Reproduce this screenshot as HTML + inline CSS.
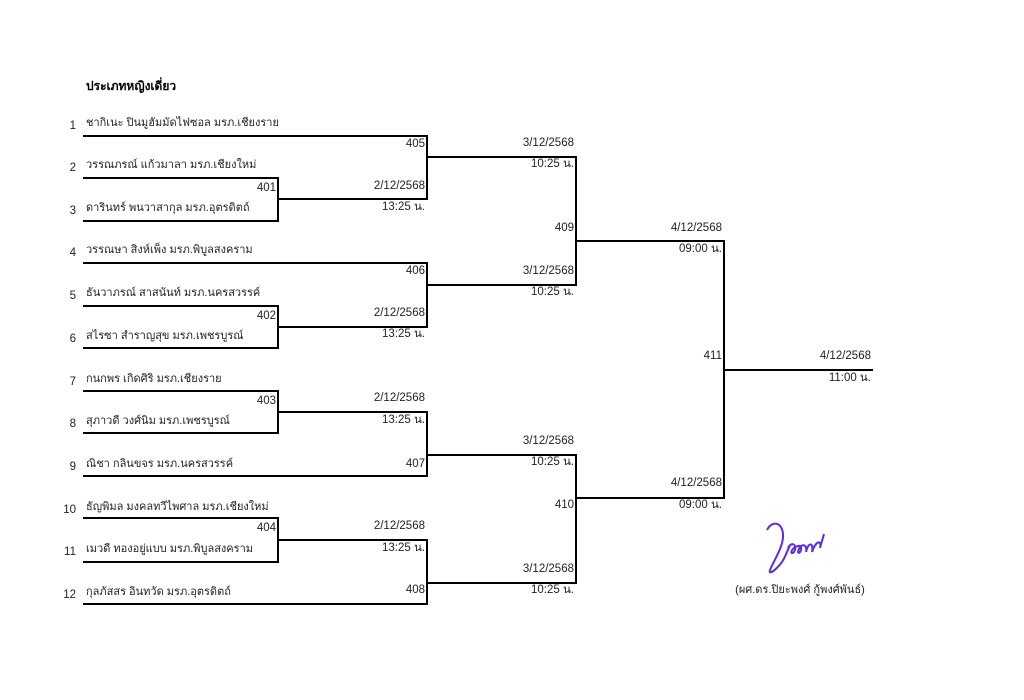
<!DOCTYPE html>
<html><head><meta charset="utf-8"><style>
html,body{margin:0;padding:0;background:#fff;width:1024px;height:700px;overflow:hidden}
svg text{font-family:"Liberation Sans","DejaVu Sans",sans-serif;font-size:11px;fill:#222}
svg g.n text{font-size:11.5px}
</style></head><body>
<svg width="1024" height="700" viewBox="0 0 1024 700" xmlns="http://www.w3.org/2000/svg">
<g fill="none" stroke="#000" stroke-width="2">
<polyline points="83,136 427,136 427,199 278,199"/>
<polyline points="83,178 278,178 278,221 83,221"/>
<line x1="427" y1="157" x2="576" y2="157"/>
<polyline points="83,263 427,263 427,327 278,327"/>
<polyline points="83,306 278,306 278,348 83,348"/>
<line x1="427" y1="285" x2="576" y2="285"/>
<polyline points="83,391 278,391 278,433 83,433"/>
<polyline points="278,412 427,412 427,476 83,476"/>
<line x1="427" y1="455" x2="576" y2="455"/>
<polyline points="83,518 278,518 278,562 83,562"/>
<polyline points="278,540 427,540 427,604 83,604"/>
<line x1="427" y1="583" x2="576" y2="583"/>
<line x1="576" y1="156" x2="576" y2="286"/>
<line x1="576" y1="241" x2="724" y2="241"/>
<line x1="576" y1="454" x2="576" y2="584"/>
<line x1="576" y1="498" x2="724" y2="498"/>
<line x1="724" y1="240" x2="724" y2="499"/>
<line x1="724" y1="370" x2="873" y2="370"/>
</g>
<text x="86" y="90" style="font-weight:bold;font-size:12px;fill:#000">ประเภทหญิงเดี่ยว</text>
<g text-anchor="end" class="n">
<text x="76" y="129">1</text><text x="76" y="171">2</text><text x="76" y="214">3</text>
<text x="76" y="256">4</text><text x="76" y="299">5</text><text x="76" y="342">6</text>
<text x="76" y="385">7</text><text x="76" y="427">8</text><text x="76" y="470">9</text>
<text x="76" y="513">10</text><text x="76" y="555">11</text><text x="76" y="598">12</text>
</g>
<g>
<text x="86" y="126">ชากิเนะ ปินมูฮัมมัดไฟซอล มรภ.เชียงราย</text>
<text x="86" y="168">วรรณภรณ์ แก้วมาลา มรภ.เชียงใหม่</text>
<text x="86" y="211">ดารินทร์ พนวาสากุล มรภ.อุตรดิตถ์</text>
<text x="86" y="253">วรรณษา สิงห์เพ็ง มรภ.พิบูลสงคราม</text>
<text x="86" y="296">ธันวาภรณ์ สาสนันท์ มรภ.นครสวรรค์</text>
<text x="86" y="339">สไรซา สำราญสุข มรภ.เพชรบูรณ์</text>
<text x="86" y="382">กนกพร เกิดศิริ มรภ.เชียงราย</text>
<text x="86" y="424">สุภาวดี วงศ์นิม มรภ.เพชรบูรณ์</text>
<text x="86" y="467">ณิชา กลินขจร มรภ.นครสวรรค์</text>
<text x="86" y="510">ธัญพิมล มงคลทวีไพศาล มรภ.เชียงใหม่</text>
<text x="86" y="552">เมวดี ทองอยู่แบบ มรภ.พิบูลสงคราม</text>
<text x="86" y="595">กุลภัสสร อินทวัด มรภ.อุตรดิตถ์</text>
</g>
<g text-anchor="end" class="n">
<text x="425" y="147">405</text><text x="425" y="189">2/12/2568</text><text x="425" y="210">13:25 น.</text>
<text x="276" y="191">401</text>
<text x="425" y="274">406</text><text x="425" y="316">2/12/2568</text><text x="425" y="337">13:25 น.</text>
<text x="276" y="319">402</text>
<text x="276" y="404">403</text><text x="425" y="401">2/12/2568</text><text x="425" y="423">13:25 น.</text>
<text x="425" y="467">407</text>
<text x="276" y="531">404</text><text x="425" y="529">2/12/2568</text><text x="425" y="551">13:25 น.</text>
<text x="425" y="593">408</text>
<text x="574" y="146">3/12/2568</text><text x="574" y="167">10:25 น.</text>
<text x="574" y="231">409</text>
<text x="574" y="274">3/12/2568</text><text x="574" y="295">10:25 น.</text>
<text x="574" y="444">3/12/2568</text><text x="574" y="465">10:25 น.</text>
<text x="574" y="508">410</text>
<text x="574" y="572">3/12/2568</text><text x="574" y="593">10:25 น.</text>
<text x="722" y="231">4/12/2568</text><text x="722" y="252">09:00 น.</text>
<text x="722" y="359">411</text>
<text x="722" y="486">4/12/2568</text><text x="722" y="508">09:00 น.</text>
<text x="871" y="359">4/12/2568</text><text x="871" y="381">11:00 น.</text>
</g>
<path d="M767,530 C772,520 782,522 783,534 C784,546 774,560 770,570 C768,576 776,570 782,562 C786,556 788,548 790,546 M788,548 C792,540 798,546 794,552 C790,556 790,548 798,546 C804,544 800,556 798,552 C800,542 808,544 806,552 C808,542 814,542 812,552 C816,540 822,540 820,548 L824,534" fill="none" stroke="#5a2ee6" stroke-width="2"/>
<text x="800" y="593" text-anchor="middle">(ผศ.ดร.ปิยะพงศ์ กู้พงศ์พันธ์)</text>
</svg>
</body></html>
